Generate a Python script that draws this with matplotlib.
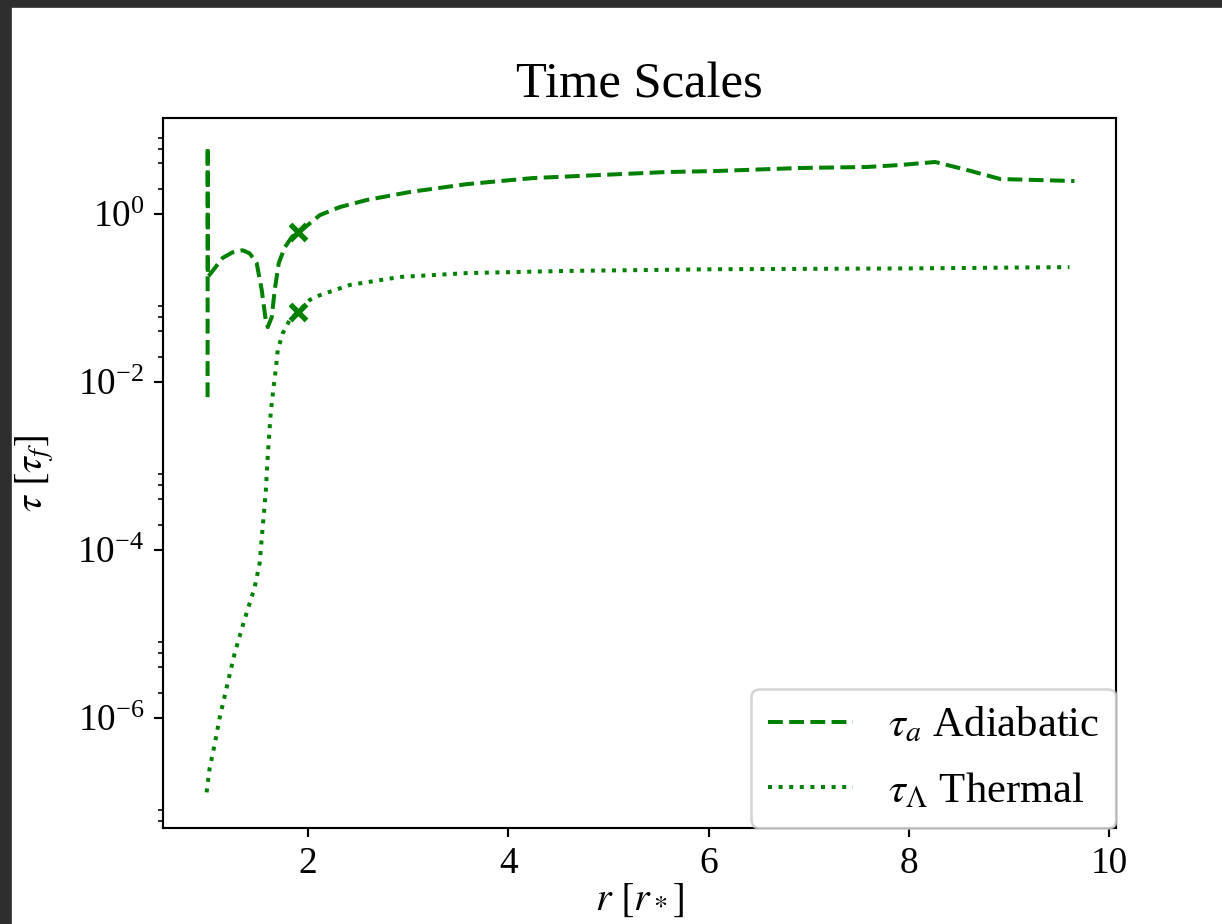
import numpy as np
import matplotlib
matplotlib.use("Agg")
import matplotlib.pyplot as plt
from matplotlib.patches import Rectangle
from matplotlib.ticker import FixedLocator

plt.rcParams['font.family'] = 'serif'
plt.rcParams['font.serif'] = ['Liberation Serif', 'DejaVu Serif']
plt.rcParams['mathtext.fontset'] = 'stix'

# adiabatic time scale tau_a (in units of tau_f) vs radius r (in r_*)
r_adiab = [1.0, 1.001, 1.003, 1.15, 1.25, 1.35, 1.42, 1.49, 1.54, 1.58, 1.60,
           1.64, 1.67, 1.71, 1.77, 1.84, 1.89, 1.95, 2.12, 2.32, 2.59, 3.02,
           3.59, 4.25, 4.91, 5.58, 6.08, 6.91, 7.58, 7.91, 8.26, 8.58, 8.91, 9.65]
tau_adiab = [0.0066, 6.3, 0.178, 0.30, 0.35, 0.37, 0.34, 0.26, 0.125, 0.055, 0.045,
             0.059, 0.125, 0.26, 0.40, 0.53, 0.61, 0.66, 0.97, 1.21, 1.47, 1.83,
             2.27, 2.68, 2.91, 3.16, 3.25, 3.53, 3.63, 3.83, 4.16, 3.34, 2.61, 2.47]

# thermal time scale tau_Lambda
r_therm = [0.99, 1.02, 1.07, 1.12, 1.19, 1.27, 1.37, 1.47, 1.52, 1.55, 1.58,
           1.60, 1.63, 1.66, 1.68, 1.70, 1.75, 1.82, 1.90, 2.02, 2.12, 2.42,
           2.92, 3.59, 4.58, 6.08, 8.0, 9.0, 9.6]
tau_therm = [1.3e-7, 2.5e-7, 4.8e-7, 1.0e-6, 2.3e-6, 5.9e-6, 1.5e-5, 3.6e-5, 7.0e-5,
             1.9e-4, 4.8e-4, 1.3e-3, 4.3e-3, 9.0e-3, 0.014, 0.024, 0.038, 0.055,
             0.068, 0.095, 0.108, 0.143, 0.178, 0.198, 0.21, 0.22, 0.225, 0.23, 0.233]

# marked point
r_mark = 1.9
tau_mark = [0.61, 0.068]

W, H, DPI = 1222, 924, 192
fig = plt.figure(figsize=(W / DPI, H / DPI), dpi=DPI)
ax = fig.add_axes([163 / W, (H - 828) / H, (1116 - 163) / W, (828 - 118) / H])

ax.plot(r_adiab, tau_adiab, '--', color='g', lw=1.5, label=r'$\tau_a$ Adiabatic')
ax.plot(r_therm, tau_therm, ':', color='g', lw=1.5, label=r'$\tau_\Lambda$ Thermal')
ax.plot([r_mark, r_mark], tau_mark, 'x', color='g', ms=6, mew=2, ls='none')

ax.set_yscale('log')
ax.set_xlim(0.555, 10.065)
ax.set_ylim(10 ** -7.31, 10 ** 1.143)

# major ticks every second decade, minor at 2,4,6,8 of those decades
decades = np.arange(-8, 2, 2)
ax.yaxis.set_major_locator(FixedLocator(10.0 ** decades))
ax.yaxis.set_minor_locator(FixedLocator([s * 10.0 ** d for d in decades for s in (2, 4, 6, 8)]))

ax.tick_params(labelsize=14)
ax.set_title('Time Scales', fontsize=19, pad=7.5)
ax.set_xlabel(r'$r\ [r_*]$', fontsize=15, labelpad=0)
ax.set_ylabel(r'$\tau\ [\tau_f]$', fontsize=15)
ax.yaxis.set_label_coords(-0.112, 0.5)
ax.legend(loc='lower right', fontsize=16, borderaxespad=0.0, labelspacing=0.6)

# dark screenshot frame
fig.patches.append(Rectangle((0, 0), 10 / W, 1, transform=fig.transFigure,
                             color='#2e2e2e', zorder=10))
fig.patches.append(Rectangle((0, 1 - 6 / H), 1, 6 / H, transform=fig.transFigure,
                             color='#2e2e2e', zorder=10))

fig.savefig('out.png', dpi=DPI)
